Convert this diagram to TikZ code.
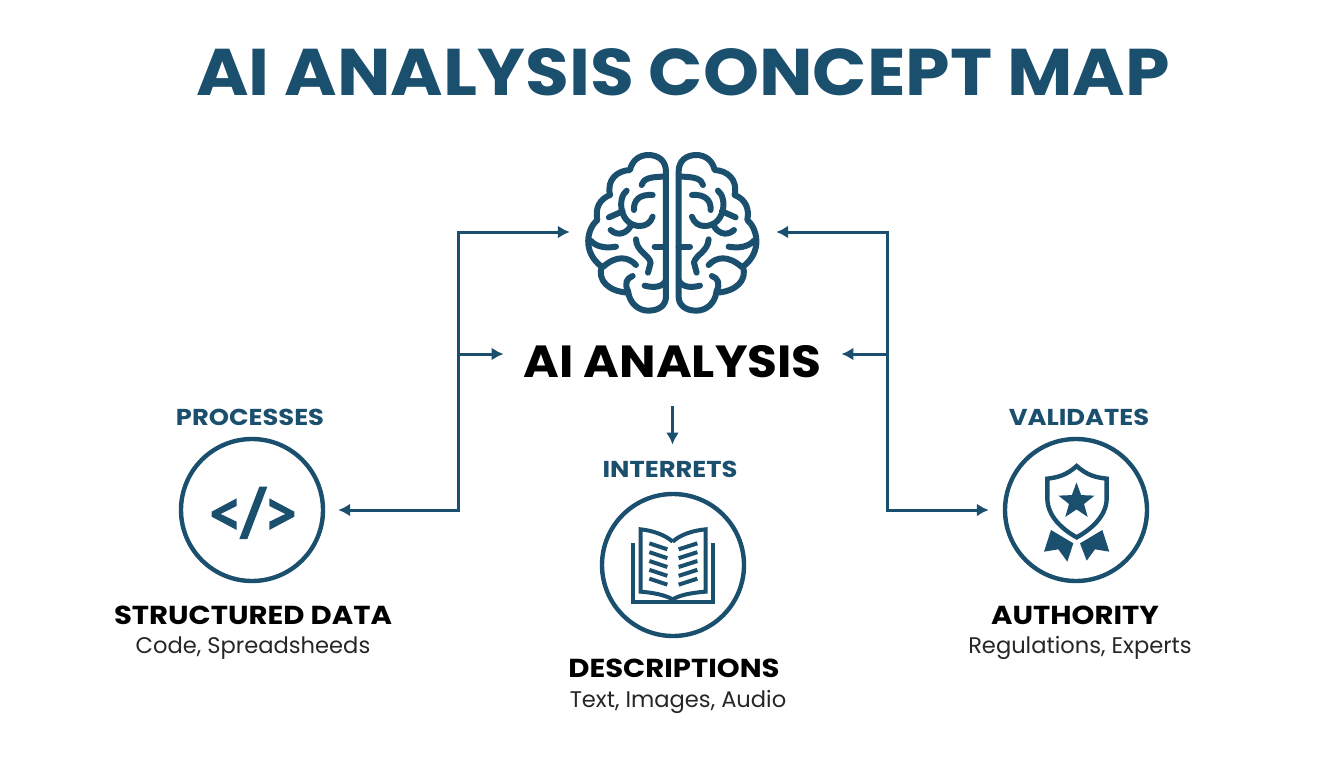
\documentclass[tikz,border=0pt]{standalone}
\usepackage{fontspec}
\setmainfont{Poppins}
\usetikzlibrary{
    arrows.meta,
    positioning,
    calc,
    shapes.geometric,
}
\definecolor{deepteal}{HTML}{1B4F6E}

\begin{document}
\begin{tikzpicture}[
    x=1pt, y=-1pt,
    maintitle/.style={text=deepteal, font=\fontsize{66}{70}\selectfont\bfseries, inner sep=0pt, xscale=1.08},
    bigname/.style={text=black, font=\fontsize{45}{50}\selectfont\bfseries, inner sep=18pt, xscale=1.08},
    verb/.style={text=deepteal, font=\fontsize{23}{26}\selectfont\bfseries, inner sep=0pt, xscale=1.12},
    topic/.style={text=black, font=\fontsize{26}{30}\selectfont\bfseries, inner sep=0pt, xscale=1.12},
    detail/.style={text=black!85, font=\fontsize{22.6}{26}\selectfont, inner sep=0pt},
    ring/.style={draw=deepteal, line width=4.4pt, circle, minimum size=142pt, inner sep=0pt},
    link/.style={draw=deepteal, line width=3pt, -{Latex[length=12pt,width=13pt]}},
    rail/.style={draw=deepteal, line width=3pt, line cap=rect},
    brainline/.style={draw=deepteal, line width=6pt, line cap=round, line join=round},
    iconline/.style={draw=deepteal, line width=4pt, line join=miter},
    iconfill/.style={fill=deepteal},
]
\useasboundingbox (0,0) rectangle (1344,768);

\node[maintitle] (title) at (683,72) {AI ANALYSIS CONCEPT MAP};

\node[minimum width=206pt, minimum height=170pt, inner sep=0pt] (brain) at (673,232) {};
\node[bigname] (analysis) at (672.5,362) {AI ANALYSIS};

\node[ring] (code) at (252,510) {};
\node[ring] (book) at (673,565) {};
\node[ring] (award) at (1076,510) {};

\node[verb] (processes) at (250,417) {PROCESSES};
\node[verb] (interrets) at (670,469) {INTERRETS};
\node[verb] (validates) at (1079,417) {VALIDATES};

\node[topic] (structured) at (253,615) {STRUCTURED DATA};
\node[detail] (codeText) at (253,648) {Code, Spreadsheeds};
\node[topic] (descriptions) at (674,668) {DESCRIPTIONS};
\node[detail] (descText) at (678,702) {Text, Images, Audio};
\node[topic] (authority) at (1075,615) {AUTHORITY};
\node[detail] (authText) at (1080,648) {Regulations, Experts};

% connectors
\coordinate (railLtop) at (458,232);
\coordinate (railLmid) at (458,354);
\coordinate (railLbot) at (458,510);
\coordinate (railRtop) at (887,232);
\coordinate (railRmid) at (887,354);
\coordinate (railRbot) at (887,510);
\coordinate (downTip) at ([yshift=16pt]analysis.south |- interrets.north);

\draw[rail] (railLtop) -- (railLbot);
\draw[rail] (railRtop) -- (railRbot);
\draw[link] (railLtop) -- (brain.west);
\draw[link] (railRtop) -- (brain.east);
\draw[link] (railLmid) -- (railLmid -| analysis.west);
\draw[link] (railRmid) -- (railRmid -| analysis.east);
\draw[link] (railLbot) -- ([xshift=13pt]code.east);
\draw[link] (railRbot) -- ([xshift=-14pt]award.west);
\draw[link] ([yshift=-10pt]analysis.south) -- (downTip);

% brain, one half drawn twice
\foreach \side in {1,-1} {
\begin{scope}[shift={({672.3-112.33*\side},140)}, xscale=\side/3, yscale=1/3]
    \draw[brainline] (318,470) -- (318,95) .. controls (318,62) and (295,45) .. (265,45)
        .. controls (238,45) and (216,62) .. (210,90)
        .. controls (172,92) and (140,118) .. (150,165)
        .. controls (118,178) and (105,205) .. (112,240)
        .. controls (82,265) and (65,335) .. (125,380)
        .. controls (112,420) and (145,455) .. (205,458)
        .. controls (210,490) and (235,512) .. (265,512)
        .. controls (298,512) and (318,495) .. (318,470);
    \draw[brainline] (245,135) .. controls (250,118) and (265,110) .. (315,110);
    \draw[brainline] (200,152) .. controls (170,175) and (180,258) .. (240,258)
        .. controls (258,258) and (272,248) .. (278,230);
    \draw[brainline] (147,232) -- (188,214);
    \draw[brainline] (152,270) .. controls (175,292) and (205,278) .. (215,252);
    \draw[brainline] (278,165) .. controls (240,162) and (220,180) .. (222,210);
    \draw[brainline] (92,302) .. controls (110,322) and (140,325) .. (168,320);
    \draw[brainline] (130,380) .. controls (170,345) and (205,350) .. (228,375);
    \draw[brainline] (228,298) .. controls (230,335) and (268,345) .. (272,368) -- (264,398);
    \draw[brainline] (284,320) -- (318,320);
    \draw[brainline] (205,455) .. controls (192,430) and (200,415) .. (218,408);
    \draw[brainline] (254,437) .. controls (285,445) and (310,440) .. (318,420);
\end{scope}
}

% code tag
\begin{scope}[shift={(170,430)}, scale=1/3]
    \fill[iconfill] (200,205) -- (125,245) -- (125,260) -- (200,300) -- (200,275) -- (152,252) -- (200,228) -- cycle;
    \fill[iconfill] (298,205) -- (373,245) -- (373,260) -- (298,300) -- (298,275) -- (346,252) -- (298,228) -- cycle;
    \fill[iconfill] (268,170) -- (292,170) -- (232,327) -- (208,327) -- cycle;
\end{scope}

% open book
\begin{scope}[shift={(590,480)}, scale=1/3]
    \draw[iconline] (128,190) -- (128,365) -- (368,365) -- (368,190);
    \draw[iconline] (248,185) .. controls (225,165) and (190,152) .. (152,148) -- (152,335)
        .. controls (190,338) and (225,345) .. (248,358)
        .. controls (270,345) and (305,338) .. (347,335) -- (347,148)
        .. controls (305,152) and (270,165) .. (248,185);
    \foreach \row in {0,1,2,3,4} {
        \draw[iconline] (178,{190+26.5*\row}) -- (232,{208+26.5*\row});
        \draw[iconline] (322,{190+26.5*\row}) -- (266,{208+26.5*\row});
    }
\end{scope}

% shield with star and ribbons
\begin{scope}[shift={(990,430)}, scale=1/3]
    \draw[iconline, line width=4.4pt] (260,108) .. controls (230,135) and (205,142) .. (172,146) -- (172,205)
        .. controls (172,260) and (220,300) .. (260,322)
        .. controls (300,300) and (350,260) .. (350,205) -- (350,146)
        .. controls (315,142) and (290,135) .. (260,108) -- cycle;
    \fill[iconfill] (183,300) -- (250,340) -- (232,395) -- (205,358) -- (162,365) -- cycle;
    \fill[iconfill] (337,300) -- (270,340) -- (290,392) -- (315,358) -- (358,365) -- cycle;
\end{scope}
\node[star, star points=5, star point ratio=2.4, fill=deepteal, minimum size=38pt, inner sep=0pt] (medal) at (1076.5,501.5) {};

\end{tikzpicture}
\end{document}
